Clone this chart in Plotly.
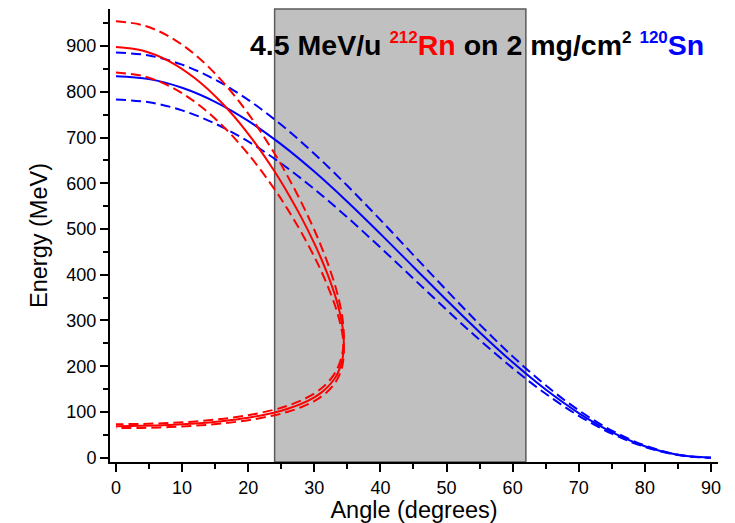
import plotly.graph_objects as go

# Scattered 212Rn: forward branch out to the limiting angle, then back along the slow branch
rnAngle = [0, 4, 8, 12, 16, 20, 24, 26, 28, 30, 31, 32, 33, 33.5, 34, 34.3, 34.47,
           34.3, 34, 33.5, 33, 32, 31, 30, 28, 26, 24, 20, 16, 12, 8, 4, 0]
rnMid = [898.0, 890.3, 867.2, 829.0, 775.9, 708.2, 625.7, 578.4, 526.5, 468.7, 436.6,
         401.4, 360.9, 337.1, 307.8, 283.1, 248.8,
         218.7, 201.2, 183.7, 171.6, 154.3, 141.8, 132.1, 117.6, 107.1, 99.0, 87.4,
         79.8, 74.7, 71.4, 69.6, 69.0]
rnHigh = [954.0, 945.8, 921.3, 880.6, 824.3, 752.4, 664.7, 614.5, 559.4, 497.9, 463.8,
          426.4, 383.4, 358.1, 327.0, 300.8, 264.4,
          232.3, 213.8, 195.2, 182.3, 163.9, 150.7, 140.4, 124.9, 113.7, 105.1, 92.9,
          84.8, 79.4, 75.9, 73.9, 73.3]
rnLow = [842.0, 834.8, 813.1, 777.3, 727.5, 664.0, 586.7, 542.4, 493.7, 439.5, 409.4,
         376.4, 338.4, 316.0, 288.6, 265.5, 233.3,
         205.1, 188.7, 172.3, 160.9, 144.7, 133.0, 123.9, 110.3, 100.4, 92.8, 82.0,
         74.8, 70.0, 67.0, 65.2, 64.7]

# 120Sn recoils
snAngle = [0, 5, 10, 15, 20, 25, 30, 35, 40, 45, 50, 55, 60, 65, 70, 75, 80, 85, 90]
snMid = [834.0, 827.7, 808.8, 778.1, 736.4, 685.0, 625.5, 559.6, 489.4, 417.0, 344.6,
         274.4, 208.5, 149.0, 97.6, 55.9, 25.1, 6.3, 0.0]
snHigh = [886.0, 879.3, 859.3, 826.7, 782.4, 727.8, 664.5, 594.5, 519.9, 443.0, 366.1,
          291.5, 221.5, 158.2, 103.6, 59.4, 26.7, 6.7, 0.0]
snLow = [783.0, 777.1, 759.4, 730.5, 691.4, 643.2, 587.3, 525.4, 459.5, 391.5, 323.5,
         257.6, 195.8, 139.8, 91.6, 52.5, 23.6, 5.9, 0.0]

# detector coverage
bandStart = 24
bandEnd = 62

FONT = "Arial, Liberation Sans, sans-serif"
DASH = "10px,5px"

fig = go.Figure()

for yVals, dash in [(snHigh, DASH), (snLow, DASH), (snMid, "solid")]:
    fig.add_trace(go.Scatter(x=snAngle, y=yVals, mode="lines",
                             line=dict(color="#0000FF", width=2, dash=dash, shape="spline"),
                             showlegend=False))
for yVals, dash in [(rnHigh, DASH), (rnLow, DASH), (rnMid, "solid")]:
    fig.add_trace(go.Scatter(x=rnAngle, y=yVals, mode="lines",
                             line=dict(color="#FF0000", width=2, dash=dash, shape="spline"),
                             showlegend=False))

fig.add_shape(type="rect", xref="x", yref="paper", x0=bandStart, x1=bandEnd, y0=0, y1=1,
              fillcolor="#C0C0C0", line=dict(color="#5A5A5A", width=1.5), layer="below")


def sup(s):
    return "<sup><span style='font-size:17px'>" + s + "</span></sup>"


fig.add_annotation(
    text="<b>4.5 MeV/u <span style='color:#FF0000'>" + sup("212") + "Rn</span> on 2 mg/cm"
         + sup("2") + " <span style='color:#0000FF'>" + sup("120") + "Sn</span></b>",
    xref="paper", yref="paper", x=0.9802, y=0.921, xanchor="right", yanchor="middle",
    showarrow=False, font=dict(family=FONT, size=28.5, color="black"))

xRange = [-0.9, 91.06]
yRange = [-9.4, 981]

# the page body adds an 8px margin, so the figure is 8px smaller than the window
fig.update_layout(
    width=727, height=515,
    margin=dict(l=102, r=17, t=1, b=61),
    paper_bgcolor="white", plot_bgcolor="white",
    font=dict(family=FONT, color="black"),
    xaxis=dict(range=xRange, showgrid=False, zeroline=False, showline=True,
               linecolor="black", linewidth=2, ticks="outside", ticklen=8, tickwidth=1.5,
               tickcolor="black", dtick=10, tick0=0, tickfont=dict(size=18),
               minor=dict(ticks="outside", ticklen=5, dtick=5, tickcolor="black", tickwidth=1.5),
               title=dict(text="Angle (degrees)", font=dict(size=23.5), standoff=1)),
    yaxis=dict(range=yRange, showgrid=False, zeroline=False, showline=True,
               linecolor="black", linewidth=2, ticks="outside", ticklen=8, tickwidth=1.5,
               tickcolor="black", dtick=100, tick0=0, tickfont=dict(size=18),
               minor=dict(ticks="outside", ticklen=5, dtick=50, tickcolor="black", tickwidth=1.5),
               title=dict(text="Energy (MeV)", font=dict(size=23.5), standoff=12)),
    xaxis2=dict(range=xRange, overlaying="x", side="top", showgrid=False, zeroline=False,
                showline=True, linecolor="black", linewidth=2, ticks="inside", ticklen=7,
                tickwidth=1.5, tickcolor="black", dtick=10, tick0=0, showticklabels=False,
                minor=dict(ticks="inside", ticklen=4, dtick=5, tickcolor="black", tickwidth=1.5)),
    yaxis2=dict(range=yRange, overlaying="y", side="right", showgrid=False, zeroline=False,
                showline=True, linecolor="black", linewidth=2, ticks="inside", ticklen=7,
                tickwidth=1.5, tickcolor="black", dtick=100, tick0=0, showticklabels=False,
                minor=dict(ticks="inside", ticklen=4, dtick=50, tickcolor="black", tickwidth=1.5)),
)

fig.write_html("out.html")
